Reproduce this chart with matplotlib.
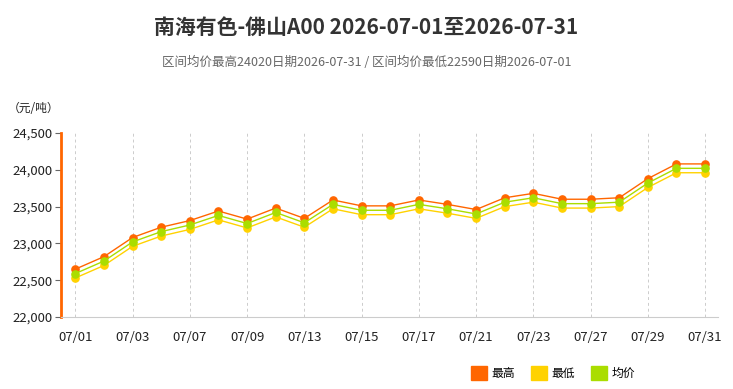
import matplotlib.pyplot as plt
from matplotlib.ticker import FuncFormatter
from matplotlib.patches import Patch

plt.rcParams['font.family'] = ['Noto Sans CJK SC', 'DejaVu Sans']

dates = ['07/01', '07/02', '07/03', '07/06', '07/07', '07/08', '07/09', '07/10',
         '07/13', '07/14', '07/15', '07/16', '07/17', '07/20', '07/21', '07/22',
         '07/23', '07/24', '07/27', '07/28', '07/29', '07/30', '07/31']
high = [22650, 22820, 23080, 23220, 23310, 23440, 23330, 23480, 23340, 23590, 23510, 23510,
        23590, 23530, 23460, 23620, 23680, 23600, 23600, 23620, 23880, 24080, 24080]
low = [22530, 22700, 22960, 23100, 23190, 23320, 23210, 23360, 23220, 23470, 23390, 23390,
       23470, 23410, 23340, 23500, 23560, 23480, 23480, 23500, 23760, 23960, 23960]
avg = [22590, 22760, 23020, 23160, 23250, 23380, 23270, 23420, 23280, 23530, 23450, 23450,
       23530, 23470, 23400, 23560, 23620, 23540, 23540, 23560, 23820, 24020, 24020]

c_high = '#FF6600'
c_low = '#FFD200'
c_avg = '#AADD00'

fig = plt.figure(figsize=(7.33, 3.89), dpi=100)
ax = fig.add_axes([61 / 733, 1 - 317 / 389, (718 - 61) / 733, (317 - 133) / 389])

x = list(range(len(dates)))
for vals, col in [(high, c_high), (low, c_low), (avg, c_avg)]:
    ax.plot(x, vals, color=col, lw=1, marker='o', ms=5.2, mec=col, mfc=col, zorder=3)

ax.set_xlim(-0.5, len(dates) - 0.55)
ax.set_ylim(22000, 24500)
ax.set_yticks(range(22000, 24501, 500))
ax.yaxis.set_major_formatter(FuncFormatter(lambda v, p: f'{int(v):,}'))
ax.set_xticks(x[::2])
ax.set_xticklabels(dates[::2])
ax.xaxis.grid(True, color='#cccccc', ls=(0, (3, 3)), lw=0.7)

for s in ['top', 'right']:
    ax.spines[s].set_visible(False)
ax.spines['left'].set_color(c_high)
ax.spines['left'].set_linewidth(2)
ax.spines['bottom'].set_color('#cccccc')
ax.tick_params(axis='y', length=4, color='#666666', labelsize=9.5, labelcolor='#222222', pad=2)
ax.tick_params(axis='x', length=0, labelsize=9.5, labelcolor='#222222', pad=10)

fig.text(0.5, 1 - 27 / 389, '南海有色-佛山A00 2026-07-01至2026-07-31', ha='center', va='center',
         fontsize=15, fontweight='bold', color='#333333')
fig.text(0.5, 1 - 62 / 389, '区间均价最高24020日期2026-07-31 / 区间均价最低22590日期2026-07-01',
         ha='center', va='center', fontsize=9, color='#666666')
fig.text(8 / 733, 1 - 108 / 389, '（元/吨）', ha='left', va='center', fontsize=8.5, color='#222222')

handles = [Patch(color=c_high, label='最高'), Patch(color=c_low, label='最低'),
           Patch(color=c_avg, label='均价')]
fig.legend(handles=handles, loc='center', bbox_to_anchor=(553 / 733, 1 - 373 / 389), ncol=3,
           frameon=False, fontsize=8.5, handlelength=1.4, handleheight=1.4,
           handletextpad=0.4, columnspacing=1.3)

fig.savefig('out.png', dpi=100)
